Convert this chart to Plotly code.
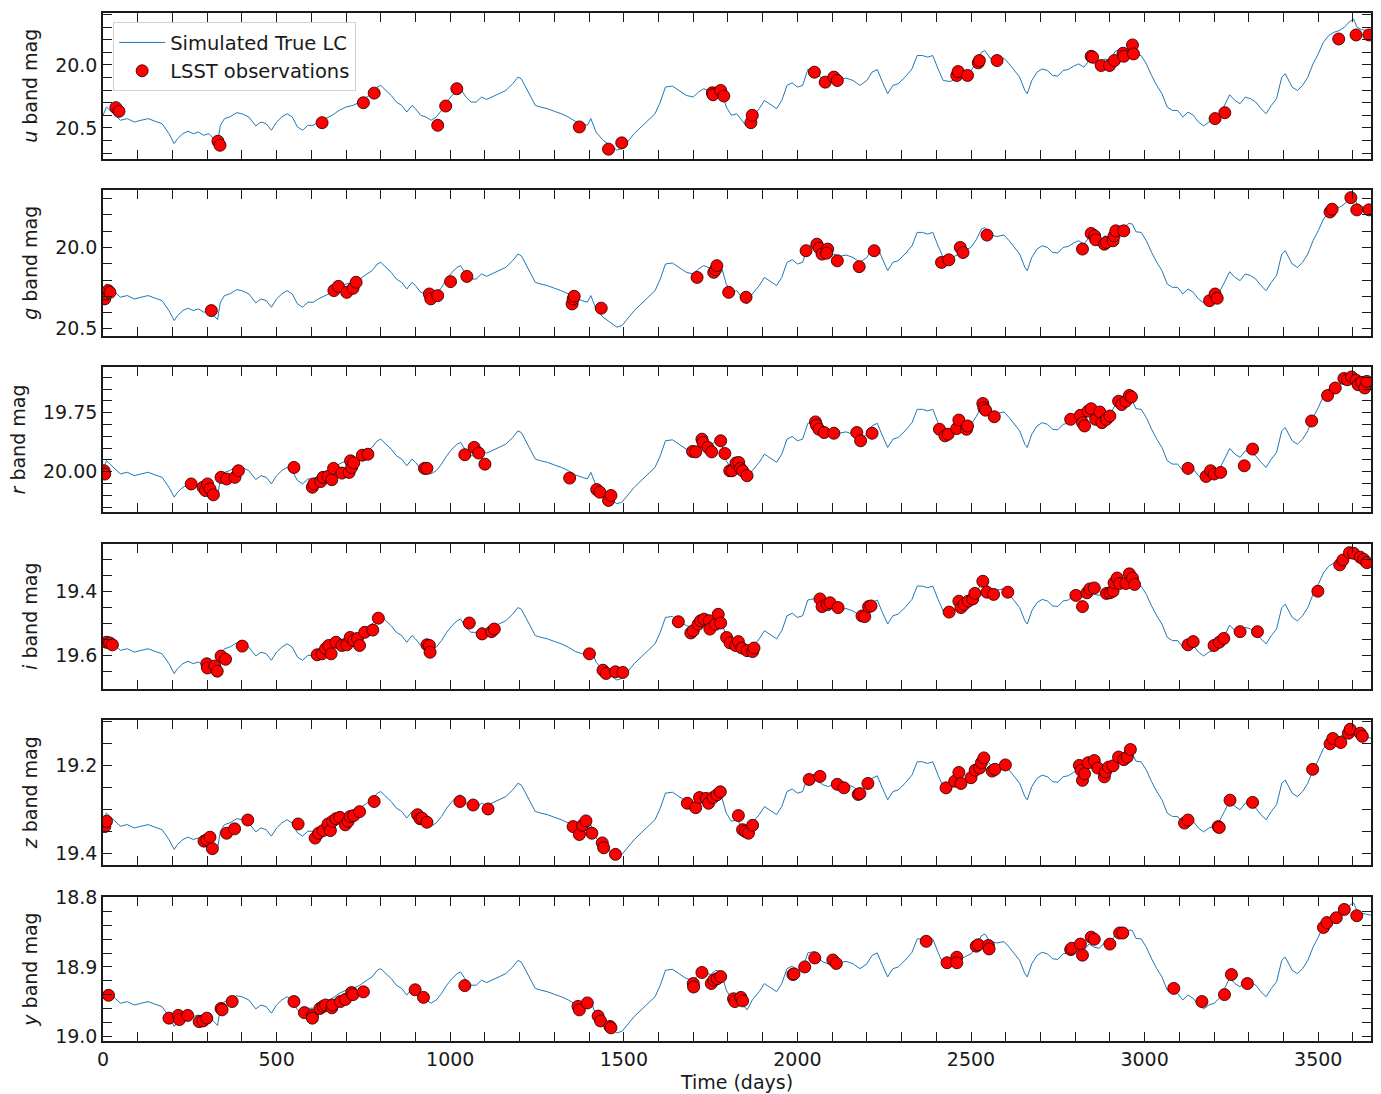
import plotly.graph_objects as go
from plotly.subplots import make_subplots

# ---------------------------------------------------------------------------
# Simulated true light curve, tabulated in the u band (mag)
# ---------------------------------------------------------------------------
lc_time = [0, 10, 20, 35, 50, 70, 90, 110, 130, 150, 170, 190, 205, 215, 230, 245,
           260, 275, 290, 305, 320, 330, 338, 350, 365, 385, 400, 420, 440, 455,
           470, 485, 500, 515, 530, 545, 560, 575, 590, 605, 620, 640, 660, 680,
           700, 720, 740, 760, 775, 790, 800, 815, 830, 845, 860, 875, 890, 900,
           915, 930, 945, 960, 975, 990, 1005, 1020, 1030, 1045, 1060, 1075, 1090,
           1105, 1120, 1140, 1160, 1180, 1195, 1205, 1215, 1230, 1245, 1260, 1280,
           1300, 1320, 1340, 1360, 1380, 1395, 1405, 1420, 1440, 1460, 1480, 1495,
           1510, 1530, 1550, 1570, 1590, 1605, 1620, 1640, 1660, 1680, 1700, 1715,
           1730, 1750, 1765, 1780, 1795, 1810, 1825, 1840, 1855, 1870, 1890, 1905,
           1920, 1940, 1955, 1970, 1985, 2000, 2015, 2030, 2050, 2060, 2075, 2090,
           2105, 2120, 2140, 2160, 2180, 2200, 2215, 2230, 2245, 2260, 2275, 2290,
           2310, 2330, 2345, 2360, 2375, 2390, 2405, 2420, 2440, 2460, 2480, 2500,
           2515, 2530, 2540, 2555, 2575, 2595, 2610, 2625, 2640, 2655, 2662, 2675,
           2690, 2705, 2720, 2735, 2750, 2765, 2780, 2795, 2810, 2825, 2840, 2855,
           2870, 2885, 2900, 2915, 2930, 2945, 2955, 2965, 2975, 2990, 3005, 3020,
           3035, 3050, 3065, 3080, 3095, 3110, 3125, 3140, 3155, 3170, 3185, 3200,
           3215, 3230, 3245, 3260, 3275, 3290, 3305, 3320, 3335, 3350, 3365, 3380,
           3395, 3405, 3425, 3440, 3455, 3470, 3485, 3500, 3515, 3530, 3545, 3560,
           3575, 3590, 3602, 3612, 3625, 3640, 3652]
lc_u_mag = [20.400, 20.334, 20.361, 20.400, 20.439, 20.426, 20.453, 20.439, 20.426,
            20.447, 20.466, 20.545, 20.624, 20.584, 20.545, 20.526, 20.545, 20.532,
            20.558, 20.545, 20.584, 20.616, 20.479, 20.426, 20.413, 20.379, 20.387,
            20.413, 20.484, 20.453, 20.466, 20.518, 20.453, 20.413, 20.387, 20.413,
            20.492, 20.518, 20.479, 20.479, 20.453, 20.426, 20.400, 20.361, 20.334,
            20.321, 20.295, 20.255, 20.229, 20.176, 20.163, 20.203, 20.242, 20.295,
            20.321, 20.374, 20.321, 20.347, 20.400, 20.413, 20.439, 20.413, 20.361,
            20.295, 20.242, 20.203, 20.189, 20.255, 20.295, 20.295, 20.255, 20.274,
            20.255, 20.229, 20.203, 20.150, 20.097, 20.111, 20.163, 20.242, 20.321,
            20.334, 20.347, 20.368, 20.387, 20.413, 20.447, 20.466, 20.479, 20.426,
            20.532, 20.597, 20.637, 20.676, 20.663, 20.611, 20.545, 20.492, 20.439,
            20.387, 20.295, 20.176, 20.168, 20.203, 20.242, 20.255, 20.216, 20.189,
            20.211, 20.176, 20.189, 20.334, 20.400, 20.387, 20.439, 20.492, 20.413,
            20.347, 20.282, 20.308, 20.347, 20.282, 20.163, 20.142, 20.176, 20.163,
            20.037, 20.026, 20.084, 20.111, 20.124, 20.097, 20.116, 20.105, 20.124,
            20.163, 20.124, 20.058, 20.037, 20.137, 20.229, 20.163, 20.150, 20.097,
            20.032, 19.926, 19.926, 19.939, 19.926, 20.032, 20.124, 20.132, 20.105,
            20.071, 20.045, 19.984, 19.900, 19.887, 19.947, 19.958, 19.947, 19.992,
            20.045, 20.097, 20.203, 20.229, 20.124, 20.058, 20.032, 20.045, 20.084,
            20.089, 20.045, 20.037, 20.011, 19.992, 20.018, 19.966, 19.992, 20.000,
            19.953, 19.966, 19.895, 19.874, 19.879, 19.853, 19.861, 19.921, 19.926,
            19.992, 20.084, 20.163, 20.229, 20.334, 20.361, 20.361, 20.413, 20.374,
            20.400, 20.453, 20.484, 20.453, 20.439, 20.400, 20.321, 20.237, 20.282,
            20.308, 20.255, 20.268, 20.295, 20.347, 20.387, 20.321, 20.268, 20.097,
            20.071, 20.176, 20.203, 20.163, 20.097, 19.992, 19.913, 19.821, 19.768,
            19.742, 19.729, 19.703, 19.658, 19.637, 19.703, 19.721, 19.729, 19.737]

# The same variability seen through each filter: mag = zero + amp * (u - 20)
band_names = ["u", "g", "r", "i", "z", "y"]
band_zero = [20.0, 19.965, 19.775, 19.413, 19.213, 18.873]
band_amp = [1.0, 0.776, 0.534, 0.390, 0.285, 0.181]

# ---------------------------------------------------------------------------
# LSST observations per band
# ---------------------------------------------------------------------------
obs_u_time = [37, 46, 331, 337, 631, 750, 781, 964, 987, 1019, 1372, 1456, 1494,
              1755, 1757, 1779, 1788, 1866, 1870, 2049, 2080, 2105, 2115, 2459, 2463,
              2490, 2521, 2524, 2575, 2846, 2850, 2875, 2899, 2913, 2938, 2940, 2965,
              2968, 3203, 3231, 3559, 3609, 3646]
obs_u_mag = [20.339, 20.368, 20.605, 20.637, 20.458, 20.300, 20.224, 20.479, 20.326,
             20.189, 20.492, 20.668, 20.618, 20.221, 20.237, 20.203, 20.247, 20.458,
             20.400, 20.058, 20.137, 20.097, 20.124, 20.084, 20.053, 20.084, 19.984,
             19.966, 19.966, 19.932, 19.939, 20.005, 20.005, 19.966, 19.908, 19.932,
             19.842, 19.913, 20.426, 20.379, 19.795, 19.763, 19.763]

obs_g_time = [5, 8, 15, 20, 312, 665, 678, 702, 720, 729, 940, 944, 964, 1001, 1048,
              1351, 1354, 1357, 1435, 1711, 1759, 1764, 1768, 1802, 1852, 2025, 2056,
              2063, 2071, 2087, 2084, 2115, 2178, 2221, 2415, 2436, 2469, 2477, 2546,
              2821, 2846, 2856, 2859, 2884, 2890, 2909, 2912, 2917, 2940, 3187, 3203,
              3209, 3534, 3540, 3594, 3611, 3646]
obs_g_mag = [20.316, 20.286, 20.265, 20.276, 20.388, 20.265, 20.239, 20.276, 20.251,
             20.214, 20.286, 20.316, 20.296, 20.210, 20.178, 20.347, 20.316, 20.300,
             20.373, 20.184, 20.153, 20.137, 20.112, 20.276, 20.306, 20.020, 19.980,
             20.004, 20.041, 20.010, 20.035, 20.082, 20.118, 20.020, 20.092, 20.076,
             20.000, 20.031, 19.924, 20.010, 19.914, 19.929, 19.953, 19.980, 19.969,
             19.959, 19.929, 19.898, 19.898, 20.327, 20.286, 20.312, 19.782, 19.765,
             19.694, 19.769, 19.769]

obs_r_time = [3, 5, 254, 288, 295, 301, 308, 318, 340, 356, 380, 390, 550, 603, 607,
              627, 634, 648, 659, 664, 688, 709, 713, 716, 722, 747, 763, 926, 933,
              1042, 1069, 1082, 1100, 1344, 1422, 1431, 1456, 1463, 1698, 1707, 1725,
              1728, 1742, 1753, 1779, 1791, 1805, 1812, 1823, 1831, 1836, 1842, 1855,
              2052, 2055, 2062, 2077, 2105, 2171, 2182, 2215, 2409, 2425, 2434, 2459,
              2465, 2487, 2490, 2534, 2537, 2542, 2567, 2787, 2815, 2821, 2827, 2837,
              2846, 2859, 2871, 2877, 2890, 2900, 2925, 2934, 2946, 2956, 2962, 3125,
              3177, 3190, 3200, 3219, 3287, 3311, 3481, 3527, 3549, 3574, 3584, 3596,
              3609, 3615, 3625, 3634, 3640]
obs_r_mag = [19.996, 20.010, 20.052, 20.066, 20.080, 20.052, 20.073, 20.098, 20.024,
             20.031, 20.024, 19.996, 19.982, 20.066, 20.052, 20.042, 20.024, 20.020,
             20.034, 19.986, 20.006, 20.003, 19.954, 19.982, 19.963, 19.930, 19.926,
             19.986, 19.986, 19.928, 19.897, 19.921, 19.968, 20.027, 20.076, 20.087,
             20.122, 20.101, 19.914, 19.916, 19.862, 19.876, 19.897, 19.916, 19.869,
             19.923, 19.996, 19.996, 19.963, 19.961, 19.986, 19.996, 20.017, 19.789,
             19.803, 19.820, 19.834, 19.837, 19.834, 19.869, 19.837, 19.820, 19.848,
             19.841, 19.817, 19.781, 19.820, 19.806, 19.711, 19.729, 19.739, 19.767,
             19.778, 19.761, 19.792, 19.806, 19.743, 19.733, 19.778, 19.747, 19.792,
             19.778, 19.764, 19.701, 19.715, 19.701, 19.677, 19.683, 19.986, 20.020,
             19.996, 20.010, 20.003, 19.975, 19.904, 19.785, 19.677, 19.645, 19.605,
             19.610, 19.598, 19.612, 19.631, 19.621, 19.645, 19.617]

obs_i_time = [10, 19, 27, 299, 301, 322, 329, 340, 353, 401, 617, 631, 641, 650, 657,
              671, 688, 702, 712, 722, 733, 739, 754, 777, 793, 933, 940, 942, 1055,
              1092, 1119, 1127, 1401, 1440, 1449, 1476, 1497, 1657, 1693, 1700, 1714,
              1721, 1731, 1746, 1748, 1764, 1772, 1779, 1796, 1806, 1822, 1830, 1840,
              1855, 1871, 1875, 2065, 2071, 2086, 2094, 2117, 2186, 2194, 2205, 2212,
              2437, 2465, 2471, 2480, 2492, 2505, 2511, 2534, 2546, 2565, 2606, 2802,
              2821, 2834, 2842, 2855, 2890, 2900, 2909, 2912, 2921, 2928, 2946, 2956,
              2965, 2971, 3125, 3140, 3200, 3215, 3228, 3275, 3325, 3499, 3562, 3571,
              3590, 3602, 3621, 3631, 3640]
obs_i_mag = [19.559, 19.561, 19.567, 19.626, 19.639, 19.633, 19.649, 19.602, 19.612,
             19.571, 19.598, 19.595, 19.579, 19.569, 19.595, 19.559, 19.569, 19.567,
             19.544, 19.554, 19.547, 19.569, 19.528, 19.521, 19.484, 19.567, 19.569,
             19.590, 19.499, 19.533, 19.526, 19.518, 19.595, 19.646, 19.656, 19.651,
             19.653, 19.495, 19.530, 19.523, 19.503, 19.492, 19.487, 19.492, 19.518,
             19.503, 19.472, 19.499, 19.544, 19.561, 19.569, 19.557, 19.577, 19.585,
             19.588, 19.577, 19.424, 19.448, 19.441, 19.436, 19.451, 19.477, 19.479,
             19.448, 19.446, 19.465, 19.431, 19.451, 19.441, 19.431, 19.424, 19.407,
             19.369, 19.403, 19.410, 19.403, 19.413, 19.448, 19.405, 19.393, 19.390,
             19.407, 19.405, 19.400, 19.374, 19.359, 19.376, 19.376, 19.346, 19.359,
             19.379, 19.567, 19.557, 19.569, 19.559, 19.547, 19.526, 19.526, 19.400,
             19.318, 19.303, 19.280, 19.282, 19.294, 19.301, 19.311]

obs_z_time = [5, 10, 291, 299, 308, 315, 356, 379, 417, 562, 611, 621, 634, 648, 655,
              661, 671, 682, 698, 706, 712, 722, 739, 781, 906, 913, 919, 933, 1028,
              1066, 1109, 1354, 1372, 1381, 1391, 1408, 1438, 1442, 1476, 1683, 1707,
              1718, 1737, 1744, 1757, 1768, 1778, 1830, 1842, 1850, 1859, 1871, 2034,
              2065, 2115, 2134, 2175, 2180, 2203, 2428, 2453, 2465, 2471, 2500, 2512,
              2525, 2530, 2537, 2561, 2569, 2599, 2812, 2817, 2821, 2827, 2837, 2855,
              2865, 2884, 2887, 2896, 2909, 2925, 2940, 2950, 2959, 3115, 3125, 3212,
              3215, 3246, 3311, 3484, 3534, 3542, 3565, 3587, 3592, 3621, 3627]
obs_z_mag = [19.339, 19.327, 19.372, 19.369, 19.363, 19.389, 19.354, 19.344, 19.324,
             19.333, 19.365, 19.354, 19.348, 19.333, 19.348, 19.327, 19.321, 19.318,
             19.335, 19.327, 19.316, 19.314, 19.305, 19.282, 19.312, 19.321, 19.320,
             19.329, 19.282, 19.290, 19.299, 19.339, 19.357, 19.336, 19.326, 19.354,
             19.376, 19.387, 19.402, 19.286, 19.296, 19.273, 19.275, 19.286, 19.273,
             19.267, 19.260, 19.314, 19.346, 19.350, 19.354, 19.336, 19.232, 19.225,
             19.243, 19.251, 19.266, 19.264, 19.241, 19.251, 19.236, 19.216, 19.241,
             19.228, 19.211, 19.206, 19.194, 19.183, 19.213, 19.209, 19.199, 19.200,
             19.211, 19.234, 19.219, 19.194, 19.189, 19.206, 19.226, 19.215, 19.204,
             19.201, 19.181, 19.187, 19.181, 19.164, 19.331, 19.324, 19.339, 19.341,
             19.279, 19.284, 19.209, 19.151, 19.139, 19.148, 19.127, 19.118, 19.127,
             19.134]

obs_y_time = [16, 190, 217, 220, 244, 277, 288, 299, 340, 343, 372, 550, 580, 603, 603,
              625, 634, 641, 659, 661, 684, 698, 716, 720, 750, 899, 923, 1042, 1368,
              1372, 1395, 1426, 1433, 1460, 1463, 1700, 1701, 1725, 1752, 1759, 1769,
              1779, 1816, 1820, 1837, 1842, 1987, 1990, 2021, 2050, 2102, 2112, 2371,
              2431, 2459, 2459, 2515, 2521, 2550, 2552, 2787, 2790, 2815, 2821, 2846,
              2855, 2900, 2928, 2937, 3084, 3165, 3230, 3250, 3296, 3515, 3525, 3552,
              3575, 3611]
obs_y_mag = [18.941, 18.974, 18.970, 18.976, 18.970, 18.979, 18.978, 18.974, 18.960,
             18.962, 18.950, 18.950, 18.966, 18.970, 18.974, 18.960, 18.957, 18.955,
             18.959, 18.955, 18.950, 18.947, 18.937, 18.940, 18.936, 18.933, 18.944,
             18.927, 18.957, 18.962, 18.952, 18.971, 18.978, 18.986, 18.988, 18.924,
             18.929, 18.908, 18.924, 18.919, 18.917, 18.914, 18.946, 18.950, 18.944,
             18.949, 18.911, 18.910, 18.900, 18.887, 18.890, 18.895, 18.863, 18.894,
             18.886, 18.894, 18.870, 18.868, 18.869, 18.874, 18.875, 18.873, 18.867,
             18.883, 18.857, 18.860, 18.867, 18.851, 18.851, 18.931, 18.950, 18.940,
             18.911, 18.924, 18.843, 18.836, 18.829, 18.817, 18.826]

obs_time = [obs_u_time, obs_g_time, obs_r_time, obs_i_time, obs_z_time, obs_y_time]
obs_mag = [obs_u_mag, obs_g_mag, obs_r_mag, obs_i_mag, obs_z_mag, obs_y_mag]

# ---------------------------------------------------------------------------
# Axis styling per band: (bottom, top) of the inverted magnitude axis, ticks
# ---------------------------------------------------------------------------
y_ranges = [(20.742, 19.589), (20.541, 19.647), (20.171, 19.556),
            (19.703, 19.253), (19.425, 19.097), (19.007, 18.799)]
y_major = [(20.0, 0.5, ".1f"), (20.0, 0.5, ".1f"), (19.75, 0.25, ".2f"),
           (19.4, 0.2, ".1f"), (19.2, 0.2, ".1f"), (18.8, 0.1, ".1f")]
y_minor = [0.1, 0.1, 0.05, 0.05, 0.05, 0.02]

W, H = 1381, 1094
M_L, M_R, M_T, M_B = 103, 10, 13, 53
panel_px = [(13, 158.5), (190, 335.5), (367, 512), (544, 688.5), (720, 864.5), (897, 1041)]
plot_h = H - M_T - M_B

FONT = "DejaVu Sans"
INK = "#1a1a1a"
FS = 19

fig = make_subplots(rows=6, cols=1, shared_xaxes=True, vertical_spacing=0.02)

for k, band in enumerate(band_names):
    lc_mag = [band_zero[k] + band_amp[k] * (m - 20.0) for m in lc_u_mag]
    fig.add_trace(go.Scatter(
        x=lc_time, y=lc_mag, mode="lines",
        line=dict(color="#1f77b4", width=1),
        name="Simulated True LC", showlegend=(k == 0),
    ), row=k + 1, col=1)
    fig.add_trace(go.Scatter(
        x=obs_time[k], y=obs_mag[k], mode="markers",
        marker=dict(color="#ff0000", size=12, line=dict(color="#3a0000", width=0.9)),
        name="LSST observations", showlegend=(k == 0),
    ), row=k + 1, col=1)

    top_px, bot_px = panel_px[k]
    dom = [(H - M_B - bot_px) / plot_h, (H - M_B - top_px) / plot_h]
    tick0, dtick, fmt = y_major[k]
    fig.update_yaxes(
        row=k + 1, col=1,
        domain=dom,
        range=list(y_ranges[k]),
        tick0=tick0, dtick=dtick, tickformat=fmt,
        ticks="inside", ticklen=9, tickwidth=1.4, tickcolor=INK,
        minor=dict(ticks="inside", dtick=y_minor[k], tick0=tick0, ticklen=9,
                   tickwidth=1.4, tickcolor=INK, showgrid=False),
        showline=True, linecolor=INK, linewidth=1.5, mirror="ticks",
        showgrid=False, zeroline=False,
        tickfont=dict(family=FONT, size=FS, color=INK),
        title=dict(text=f"<i>{band}</i> band mag", standoff=12,
                   font=dict(family=FONT, size=FS, color=INK)),
        automargin=False,
    )
    fig.update_xaxes(
        row=k + 1, col=1,
        range=[0, 3652],
        tick0=0, dtick=500,
        ticks="inside", ticklen=9, tickwidth=1.4, tickcolor=INK,
        minor=dict(ticks="inside", dtick=100, ticklen=9, tickwidth=1.4,
                   tickcolor=INK, showgrid=False),
        showline=True, linecolor=INK, linewidth=1.5, mirror="ticks",
        showgrid=False, zeroline=False,
        tickfont=dict(family=FONT, size=FS, color=INK),
        automargin=False,
    )

fig.update_xaxes(row=6, col=1,
                 title=dict(text="Time (days)", standoff=7,
                            font=dict(family=FONT, size=FS, color=INK)))

fig.update_layout(
    width=W, height=H,
    margin=dict(l=M_L, r=M_R, t=M_T, b=M_B, autoexpand=False),
    paper_bgcolor="white", plot_bgcolor="white",
    font=dict(family=FONT, size=FS, color=INK),
    legend=dict(
        x=0.008, y=0.991, xanchor="left", yanchor="top",
        bgcolor="rgba(255,255,255,0.85)", bordercolor="#d0d0d0", borderwidth=1,
        font=dict(family=FONT, size=19.5, color=INK),
        itemwidth=46, tracegroupgap=2,
    ),
)

fig.write_html("out.html")
